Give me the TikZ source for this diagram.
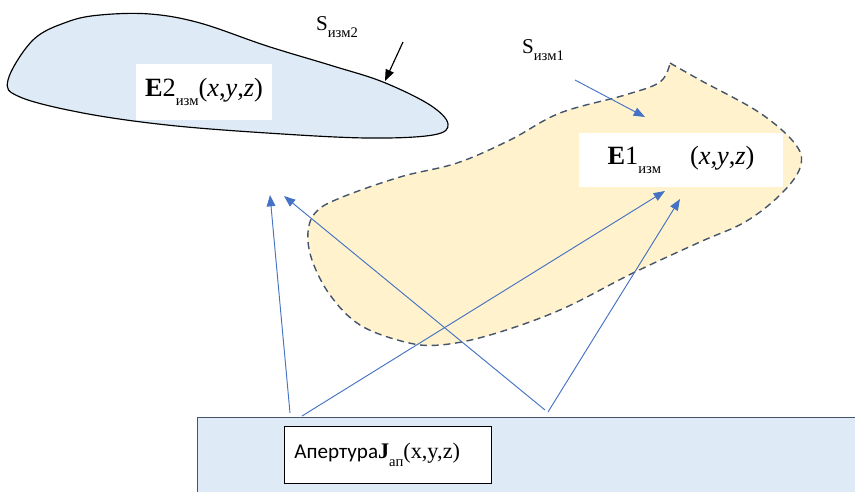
\documentclass[tikz,border=0pt]{standalone}
\usepackage{fontspec}
\setmainfont{Liberation Serif}
\newfontfamily\calfont{Carlito}
\usetikzlibrary{arrows.meta,positioning}
\definecolor{skyfill}{HTML}{DEEBF7}
\definecolor{sandfill}{HTML}{FFF2CC}
\definecolor{slate}{HTML}{44546A}
\definecolor{arblue}{HTML}{4472C4}
\newcommand{\lowsub}[1]{\raisebox{-0.35em}{\fontsize{12.5}{14}\selectfont #1}}

\begin{document}
\begin{tikzpicture}[
  x=0.03cm, y=-0.03cm,
  lbl/.style={fill=white, inner sep=2pt, font=\fontsize{22.5}{26}\selectfont},
  sname/.style={inner sep=0pt, font=\fontsize{18}{21}\selectfont},
  ray/.style={arblue, line width=0.8pt, -{Triangle[length=3.4mm, width=2.6mm]}},
  pointer/.style={line width=1pt, -{Triangle[length=3.4mm, width=2.6mm]}}
]
  \useasboundingbox (0,0) rectangle (855,491);
  % measured field surfaces
  \draw[fill=skyfill, line width=1pt] plot[smooth cycle, tension=0.6] coordinates {
    (8,80) (33,40) (67,22) (100,15) (150,14) (200,23) (267,46) (333,66)
    (383,82) (430,105) (448,124) (433,135) (367,138) (267,133) (167,125)
    (83,113) (20,97)};
  \draw[fill=sandfill, draw=slate, line width=1.2pt, dash pattern=on 6pt off 4pt]
    plot[smooth, tension=0.6] coordinates {
    (670,63) (700,80) (760,113) (796,145) (800,168) (780,195) (745,222)
    (700,242) (633,273) (560,310) (490,335) (440,345) (405,342) (360,325)
    (330,295) (312,260) (308,232) (316,212) (340,198) (400,177) (457,163)
    (510,140) (560,113) (625,95) (660,82) (670,63)} -- cycle;
  % aperture plane
  \draw[fill=skyfill, draw=slate, line width=0.8pt] (197,417) rectangle (870,500);
  \node[draw, fill=white, line width=0.8pt, anchor=north west,
        minimum width=6.2cm, minimum height=1.72cm,
        align=left, text width=5.6cm] (ap) at (284,426)
    {{\calfont\fontsize{18}{21}\selectfont Апертура}{\fontsize{19}{22}\selectfont\textbf{J}\lowsub{ап}(x,y,z)}};
  % labels
  \node[lbl, minimum width=4.1cm, minimum height=1.7cm] (e2) at (204,92)
    {\textbf{E}2\lowsub{изм}(\textit{x},\textit{y},\textit{z})};
  \node[lbl, minimum width=6.1cm, minimum height=1.6cm] (e1) at (681,160)
    {\textbf{E}1\lowsub{изм}\hspace{1.1em}(\textit{x},\textit{y},\textit{z})};
  \node[sname] (s2) at (337,27) {S\lowsub{изм2}};
  \node[sname] (s1) at (543,50) {S\lowsub{изм1}};
  \coordinate (s2tip) at (385,81);
  \coordinate (s1tip) at (645,117);
  \draw[pointer] (403,42) -- (s2tip);
  \draw[ray] (575,80) -- (s1tip);
  % rays from the aperture
  \coordinate (a1) at (290,413);
  \coordinate (a2) at (302,416);
  \coordinate (a3) at (545,410);
  \coordinate (a4) at (548,412);
  \coordinate (b1) at (270,195);
  \coordinate (b2) at (284,196);
  \coordinate (b3) at (665,191);
  \coordinate (b4) at (680,199);
  \draw[ray] (a1) -- (b1);
  \draw[ray] (a3) -- (b2);
  \draw[ray] (a2) -- (b3);
  \draw[ray] (a4) -- (b4);
\end{tikzpicture}
\end{document}
